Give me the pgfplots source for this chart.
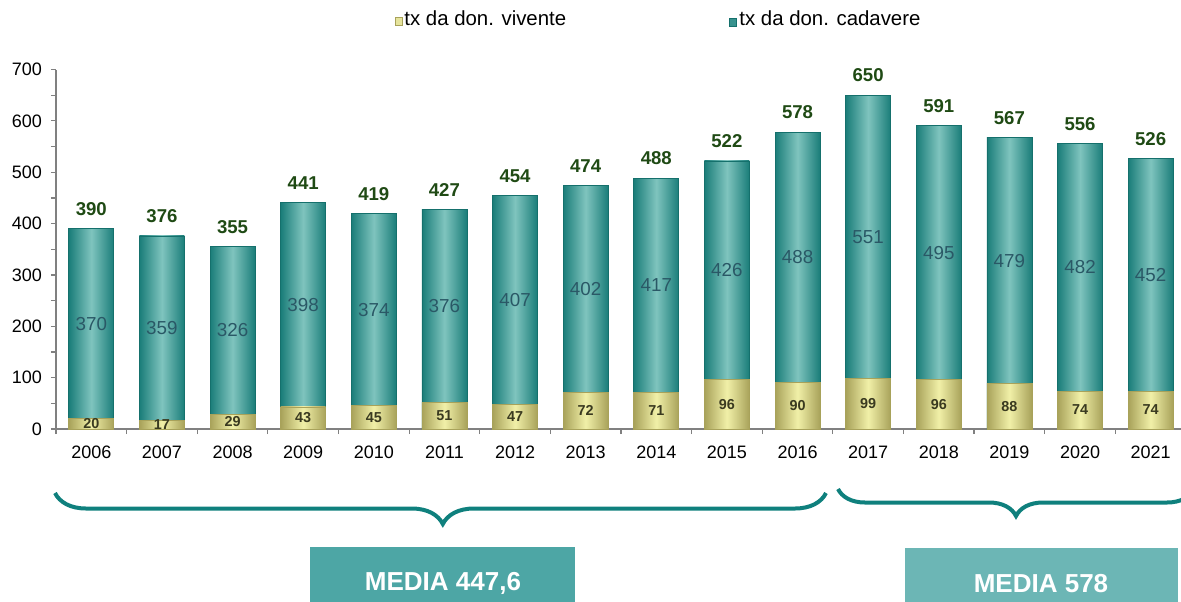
\documentclass[border=0pt]{standalone}
\usepackage{fontspec}
\setmainfont{Liberation Sans}
\usepackage{pgfplots}
\pgfplotsset{compat=1.18}
\usepackage{pgfplotstable}
\usetikzlibrary{decorations.pathreplacing}
\definecolor{tealdark}{HTML}{1A7D79}
\definecolor{teallight}{HTML}{7FC4BE}
\definecolor{tealedge}{HTML}{15706C}
\definecolor{yelldark}{HTML}{A8A25A}
\definecolor{yelllight}{HTML}{F1F0A8}
\definecolor{totcol}{HTML}{1F4A14}
\definecolor{cadlab}{HTML}{2A5866}
\definecolor{vivlab}{HTML}{3A3A20}
\definecolor{bracecol}{HTML}{0F807D}
\definecolor{boxone}{HTML}{4DA6A5}
\definecolor{boxtwo}{HTML}{6CB6B5}
\definecolor{axgray}{HTML}{808080}

% anno, vivente, cadavere, totale
\pgfplotstableread{
x viv cad tot
0 20 370 390
1 17 359 376
2 29 326 355
3 43 398 441
4 45 374 419
5 51 376 427
6 47 407 454
7 72 402 474
8 71 417 488
9 96 426 522
10 90 488 578
11 99 551 650
12 96 495 591
13 88 479 567
14 74 482 556
15 74 452 526
}\data

\begin{document}
\begin{tikzpicture}
\begin{axis}[
  scale only axis,
  width=562.5pt, height=179.75pt,
  xmin=-0.5, xmax=15.43,
  ymin=0, ymax=700,
  axis x line*=bottom, axis y line*=left,
  axis line style={axgray, line width=0.6pt},
  clip=false,
  xtick={0,...,15},
  xticklabels={2006,2007,2008,2009,2010,2011,2012,2013,2014,2015,2016,2017,2018,2019,2020,2021},
  major x tick style={draw=none},
  minor xtick={-0.5,0.5,...,15.5},
  ytick={0,100,...,700},
  minor ytick={50,150,...,650},
  tick align=outside,
  major tick length=2.5pt, minor tick length=2.5pt,
  every tick/.style={axgray, line width=0.6pt},
  tick label style={font=\fontsize{9}{10}\selectfont, text=black},
  xticklabel style={yshift=-2.5pt},
  yticklabel style={xshift=-1pt},
  /pgf/number format/assume math mode=true,
  /pgf/number format/set thousands separator={},
]
% una barra per anno, cosi' ogni barra ha la sua sfumatura
\pgfplotsinvokeforeach{0,...,15}{
  \addplot[ybar, bar width=22.5pt, bar shift=0pt, draw=tealedge, line width=0.4pt,
    left color=tealdark, right color=tealdark, middle color=teallight,
    restrict x to domain=#1:#1]
    table[x=x, y=tot] {\data};
  \addplot[ybar, bar width=22.5pt, bar shift=0pt, draw=yelldark, line width=0.4pt,
    left color=yelldark, right color=yelldark, middle color=yelllight,
    restrict x to domain=#1:#1]
    table[x=x, y=viv] {\data};
}
% etichette
\addplot[only marks, mark=none, nodes near coords, point meta=explicit,
  nodes near coords style={font=\bfseries\fontsize{9.3}{10}\selectfont, text=totcol, anchor=base, yshift=6.7pt}]
  table[x=x, y=tot, meta=tot] {\data};
\addplot[only marks, mark=none, nodes near coords, point meta=explicit,
  nodes near coords style={font=\fontsize{9.4}{10}\selectfont, text=cadlab, anchor=center}]
  table[x=x, y expr=\thisrow{viv}+\thisrow{cad}/2, meta=cad] {\data};
\addplot[only marks, mark=none, nodes near coords, point meta=explicit,
  nodes near coords style={font=\bfseries\fontsize{7.2}{8}\selectfont, text=vivlab, anchor=center}]
  table[x=x, y expr=\thisrow{viv}/2, meta=viv] {\data};
\end{axis}

% coordinate in pixel dell'immagine (origine in alto a sinistra)
\begin{scope}[x=0.5pt, y=-0.5pt, shift={(-28pt,214.5pt)}]
\pgfresetboundingbox
\useasboundingbox (0,0) rectangle (1181,601);
% legenda
\filldraw[fill=yelllight!85!yelldark, draw=yelldark, line width=0.5pt] (395,17.5) rectangle (402,25.5);
\node[anchor=base west, inner sep=0pt, font=\fontsize{10.2}{12}\selectfont] at (404,25.5) {tx da don. vivente};
\filldraw[fill=tealdark!70!teallight, draw=tealedge, line width=0.5pt] (729,18) rectangle (736,26);
\node[anchor=base west, inner sep=0pt, font=\fontsize{10.2}{12}\selectfont] at (739,25.5) {tx da don. cadavere};
% graffe
\draw[bracecol, line width=2pt, decorate, decoration={brace, mirror, amplitude=15.5pt, aspect=0.503}]
  (55,493) -- (826,493);
\draw[bracecol, line width=2pt, decorate, decoration={brace, mirror, amplitude=13.5pt, aspect=0.5}]
  (838,489) -- (1194,489);
% riquadri media
\fill[boxone] (310,547) rectangle (575,612);
\node[anchor=base, inner sep=0pt, text=white, font=\bfseries\fontsize{13}{15}\selectfont] at (443,590) {MEDIA 447,6};
\fill[boxtwo] (905,548) rectangle (1178,612);
\node[anchor=base, inner sep=0pt, text=white, font=\bfseries\fontsize{13}{15}\selectfont] at (1041,592) {MEDIA 578};
\end{scope}
\end{tikzpicture}
\end{document}
